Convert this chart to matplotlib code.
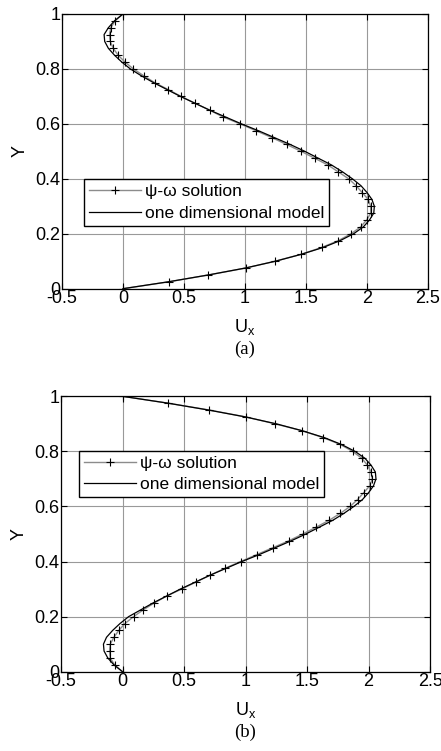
import matplotlib
matplotlib.use("Agg")
import matplotlib.pyplot as plt

plt.rcParams["font.family"] = ["Liberation Sans", "DejaVu Sans"]
plt.rcParams["mathtext.fontset"] = "custom"
plt.rcParams["mathtext.rm"] = "Liberation Sans"
plt.rcParams["mathtext.it"] = "Liberation Sans"

# Y positions of the psi-omega samples and the model curve
Y_PTS = [i / 40 for i in range(41)]

# (a) psi-omega solution
UA_PSI = [0.0, 0.377, 0.70, 1.005, 1.246, 1.459, 1.628, 1.765, 1.869, 1.948,
          1.997, 2.03, 2.03, 2.01, 1.96, 1.91, 1.85, 1.765, 1.68, 1.57,
          1.46, 1.34, 1.22, 1.09, 0.96, 0.82, 0.71, 0.59, 0.475, 0.37,
          0.26, 0.17, 0.085, 0.016, -0.04, -0.08, -0.105, -0.11, -0.10, -0.065,
          0.0]
# (a) one dimensional model
UA_MODEL = [0.0, 0.37, 0.70, 1.00, 1.25, 1.46, 1.64, 1.78, 1.89, 1.97,
            2.02, 2.055, 2.06, 2.04, 2.00, 1.95, 1.88, 1.80, 1.71, 1.60,
            1.49, 1.37, 1.24, 1.11, 0.97, 0.84, 0.71, 0.59, 0.47, 0.36,
            0.25, 0.15, 0.06, -0.01, -0.07, -0.12, -0.15, -0.155, -0.12, -0.07,
            0.0]

# (b) psi-omega solution
UB_PSI = [0.0, -0.065, -0.10, -0.105, -0.10, -0.07, -0.03, 0.02, 0.09, 0.17,
          0.26, 0.36, 0.48, 0.595, 0.71, 0.83, 0.96, 1.09, 1.22, 1.35,
          1.465, 1.575, 1.68, 1.77, 1.85, 1.91, 1.96, 2.01, 2.03, 2.02,
          1.99, 1.945, 1.87, 1.77, 1.63, 1.46, 1.24, 1.003, 0.707, 0.372,
          0.0]
# (b) one dimensional model
UB_MODEL = [0.0, -0.07, -0.12, -0.15, -0.155, -0.13, -0.08, -0.02, 0.05, 0.15,
            0.25, 0.36, 0.47, 0.59, 0.71, 0.84, 0.97, 1.11, 1.24, 1.37,
            1.49, 1.60, 1.71, 1.80, 1.88, 1.95, 2.00, 2.04, 2.06, 2.055,
            2.02, 1.97, 1.89, 1.78, 1.64, 1.46, 1.25, 1.00, 0.70, 0.37,
            0.0]

X_TICKS = [-0.5, 0, 0.5, 1, 1.5, 2, 2.5]
X_LABELS = ["-0.5", "0", "0.5", "1", "1.5", "2", "2.5"]
Y_TICKS = [0, 0.2, 0.4, 0.6, 0.8, 1]
Y_LABELS = ["0", "0.2", "0.4", "0.6", "0.8", "1"]


def draw_panel(ax, u_psi, u_model, caption, legend_xy):
    ax.plot(u_psi, Y_PTS, color="0.55", lw=1.0, marker="+", ms=6,
            mec="black", mew=0.8, label="\u03c8-\u03c9 solution")
    ax.plot(u_model, Y_PTS, color="black", lw=0.9, label="one dimensional model")
    ax.set_xlim(-0.5, 2.5)
    ax.set_ylim(0, 1)
    ax.set_xticks(X_TICKS)
    ax.set_xticklabels(X_LABELS)
    ax.set_yticks(Y_TICKS)
    ax.set_yticklabels(Y_LABELS)
    ax.tick_params(direction="in", top=True, right=True, labelsize=13,
                   length=4, width=0.8, pad=1)
    ax.grid(True, color="0.6", lw=0.8)
    for sp in ax.spines.values():
        sp.set_linewidth(0.9)
    ax.set_xlabel(r"U$_{\mathrm{x}}$", fontsize=13, labelpad=7)
    ax.set_ylabel("Y", fontsize=13, labelpad=5)
    leg = ax.legend(loc="upper left", bbox_to_anchor=legend_xy, fontsize=12.5,
                    fancybox=False, framealpha=1, edgecolor="black",
                    handlelength=3.0, handletextpad=0.2, borderpad=0.3,
                    labelspacing=0.35, borderaxespad=0)
    leg.get_frame().set_linewidth(1.0)
    ax.text(0.5, -0.22, caption, transform=ax.transAxes, ha="center",
            va="center", fontsize=13.5, family="Liberation Serif")


fig = plt.figure(figsize=(4.41, 7.51), dpi=100)
ax_a = fig.add_axes([0.1406, 0.6156, 0.830, 0.3658])
ax_b = fig.add_axes([0.1383, 0.1056, 0.837, 0.3667])

draw_panel(ax_a, UA_PSI, UA_MODEL, "(a)", (0.06, 0.399))
draw_panel(ax_b, UB_PSI, UB_MODEL, "(b)", (0.049, 0.803))

fig.savefig("out.png", dpi=100)
